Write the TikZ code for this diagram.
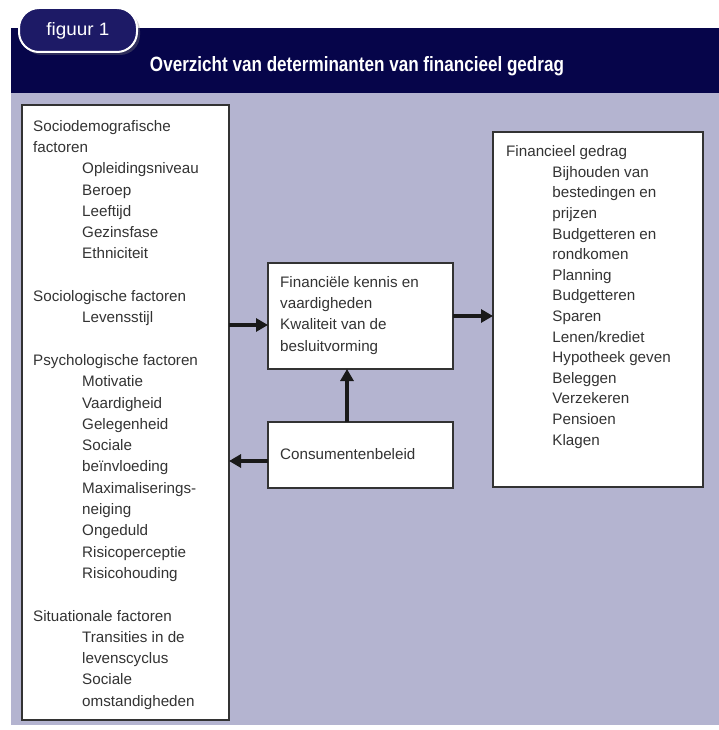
\documentclass[tikz,border=0pt]{standalone}
\usepackage{fontspec}
\setmainfont{Liberation Sans}
\usepackage{graphicx}
\usetikzlibrary{arrows.meta,shadows}

\definecolor{nachtblauw}{HTML}{06054A}
\definecolor{tabblauw}{HTML}{1D1A66}
\definecolor{lila}{HTML}{B4B4D0}
\definecolor{tekstgrijs}{HTML}{333333}

\tikzset{
  kader/.style = {draw=black!80, line width=1.4pt, fill=white, inner sep=0pt, outer sep=0pt},
  kadertekst/.style = {anchor=north west, inner sep=0pt, align=left, text=tekstgrijs,
    font=\fontsize{15.2}{21.3}\selectfont},
  pijl/.style = {line width=4pt, black!90, -{Triangle[length=12pt,width=13pt]}}
}
\newcommand{\inspr}[1][49pt]{\hspace*{#1}}

\begin{document}
\begin{tikzpicture}[x=1pt, y=-1pt]
        \useasboundingbox (0,0) rectangle (719,730);
        % achtergrond en kopbalk
        \fill[lila] (11,93) rectangle (719,725);
        \fill[nachtblauw] (11,28) rectangle (719,93);
        \node[draw=white, line width=2pt, fill=tabblauw, rounded corners=20pt,
              minimum width=118pt, minimum height=44pt,
              drop shadow={opacity=0.35, shadow xshift=3pt, shadow yshift=-3pt}] (tab) at (78,30) {};
        \node[text=white, inner sep=0pt, anchor=base] (figuur) at ([yshift=-6pt]tab.center)
              {\resizebox{63pt}{13pt}{figuur 1}};
        \node[text=white, inner sep=0pt, anchor=base] (titel) at (357,72)
              {\resizebox{414pt}{15pt}{\bfseries Overzicht van determinanten van financieel gedrag}};

        % kaders
        \node[kader, minimum width=207pt, minimum height=615pt] (factoren) at (125.5,412.5) {};
        \node[kader, minimum width=185pt, minimum height=106pt] (kennis) at (360.5,316) {};
        \node[kader, minimum width=185pt, minimum height=66pt] (beleid) at (360.5,455) {};
        \node[kader, minimum width=210pt, minimum height=355pt] (gedrag) at (598,309.5) {};

        \node[kadertekst] (factorentekst) at ([shift={(11,11)}]factoren.north west) {\strut
              Sociodemografische\\ factoren\\
              \inspr Opleidingsniveau\\ \inspr Beroep\\ \inspr Leeftijd\\
              \inspr Gezinsfase\\ \inspr Ethniciteit\\[21.3pt]
              Sociologische factoren\\ \inspr Levensstijl\\[21.3pt]
              Psychologische factoren\\ \inspr Motivatie\\ \inspr Vaardigheid\\
              \inspr Gelegenheid\\ \inspr Sociale\\ \inspr beïnvloeding\\
              \inspr Maximaliserings-\\ \inspr neiging\\ \inspr Ongeduld\\
              \inspr Risicoperceptie\\ \inspr Risicohouding\\[21.3pt]
              Situationale factoren\\ \inspr Transities in de\\ \inspr levenscyclus\\
              \inspr Sociale\\ \inspr omstandigheden};
        \node[kadertekst] (kennistekst) at ([shift={(12,9)}]kennis.north west) {\strut
              Financiële kennis en\\ vaardigheden\\ Kwaliteit van de\\ besluitvorming};
        \node[kadertekst, anchor=west] (beleidtekst) at ([xshift=12pt]beleid.west)
              {\strut Consumentenbeleid};
        \node[kadertekst, font=\fontsize{15.2}{20.6}\selectfont] (gedragtekst)
              at ([shift={(13,10)}]gedrag.north west) {\strut
              Financieel gedrag\\ \inspr[42pt] Bijhouden van\\ \inspr[42pt] bestedingen en\\
              \inspr[42pt] prijzen\\ \inspr[42pt] Budgetteren en\\ \inspr[42pt] rondkomen\\
              \inspr[42pt] Planning\\ \inspr[42pt] Budgetteren\\ \inspr[42pt] Sparen\\
              \inspr[42pt] Lenen/krediet\\ \inspr[42pt] Hypotheek geven\\ \inspr[42pt] Beleggen\\
              \inspr[42pt] Verzekeren\\ \inspr[42pt] Pensioen\\ \inspr[42pt] Klagen};

        % pijlen
        \coordinate (inkennis) at ([yshift=-9pt]kennis.west);
        \coordinate (opbeleid) at ([xshift=-13.5pt]beleid.north);
        \coordinate (uitbeleid) at ([yshift=-6pt]beleid.west);
        \draw[pijl] (factoren.east |- inkennis) -- (inkennis);
        \draw[pijl] (kennis.east) -- (gedrag.west |- kennis.east);
        \draw[pijl] (opbeleid) -- (kennis.south -| opbeleid);
        \draw[pijl] (uitbeleid) -- (factoren.east |- uitbeleid);
    \end{tikzpicture}
\end{document}
